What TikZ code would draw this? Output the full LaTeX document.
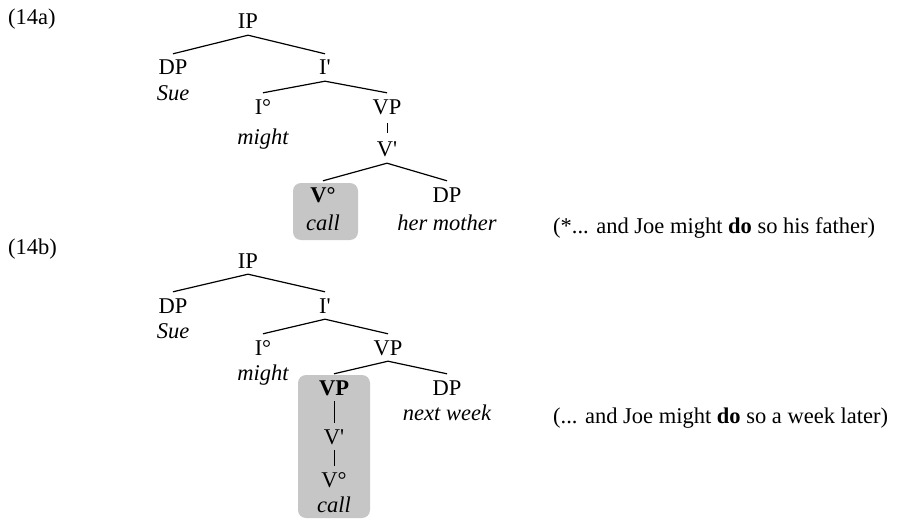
\documentclass[tikz,border=0pt]{standalone}
\usepackage{fontspec}
\setmainfont{Liberation Serif}

\begin{document}
\begin{tikzpicture}[x=1pt,y=-1pt,
    cat/.style={anchor=base, inner xsep=1pt, inner ysep=6pt, text height=15pt,
      text depth=0pt, font=\fontsize{22.5}{26}\selectfont},
    wd/.style={anchor=base, inner sep=1pt, font=\fontsize{22.5}{26}\selectfont\itshape},
    txt/.style={anchor=base west, inner sep=0pt, font=\fontsize{22.5}{26}\selectfont},
    lnk/.style={line width=1.2pt},
    vlnk/.style={line width=1pt, shorten <=3pt, shorten >=3pt},
    hl/.style={fill=gray!45, rounded corners=8pt}]
  \useasboundingbox (0,0) rectangle (898,519);
  % (14a)
  \node[txt] (ex14a) at (8,25) {(14a)};
  \fill[hl] (293,183) rectangle (358,240);
  \node[cat] (IPa) at (248,29) {IP};
  \node[cat] (DPa) at (173,75) {DP};
  \node[wd] (Suea) at (173,100) {Sue};
  \node[cat] (Ibara) at (325,75) {I\textquotesingle};
  \node[cat] (Ia) at (263,114) {I°};
  \node[wd] (mighta) at (263,145) {might};
  \node[cat] (VPa) at (387,114) {VP};
  \node[cat] (Vbara) at (387,157) {V\textquotesingle};
  \node[cat] (Va) at (323,202) {\bfseries V°};
  \node[wd] (calla) at (323,230) {call};
  \node[cat] (DPa2) at (447,202) {DP};
  \node[wd] (mothera) at (447,230) {her mother};
  \node[txt] (glossa) at (553,233) {(*... and Joe might \textbf{do} so his father)};
  \draw[lnk] (IPa.south) -- (DPa.north);
  \draw[lnk] (IPa.south) -- (Ibara.north);
  \draw[lnk] (Ibara.south) -- (Ia.north);
  \draw[lnk] (Ibara.south) -- (VPa.north);
  \draw[vlnk] (VPa.south) -- (Vbara.north);
  \draw[lnk] (Vbara.south) -- (Va.north);
  \draw[lnk] (Vbara.south) -- (DPa2.north);
  % (14b)
  \node[txt] (ex14b) at (8,254) {(14b)};
  \fill[hl] (298,375) rectangle (370,518);
  \node[cat] (IPb) at (248,268) {IP};
  \node[cat] (DPb) at (173,313) {DP};
  \node[wd] (Sueb) at (173,338) {Sue};
  \node[cat] (Ibarb) at (325,313) {I\textquotesingle};
  \node[cat] (Ib) at (263,355) {I°};
  \node[wd] (mightb) at (263,380) {might};
  \node[cat] (VPb) at (388,355) {VP};
  \node[cat] (VPc) at (334,395) {\bfseries VP};
  \node[cat] (Vbarb) at (334,444) {V\textquotesingle};
  \node[cat] (Vb) at (334,487) {V°};
  \node[wd] (callb) at (334,512) {call};
  \node[cat] (DPb2) at (447,395) {DP};
  \node[wd] (weekb) at (447,420) {next week};
  \node[txt] (glossb) at (553,423) {(... and Joe might \textbf{do} so a week later)};
  \draw[lnk] (IPb.south) -- (DPb.north);
  \draw[lnk] (IPb.south) -- (Ibarb.north);
  \draw[lnk] (Ibarb.south) -- (Ib.north);
  \draw[lnk] (Ibarb.south) -- (VPb.north);
  \draw[lnk] (VPb.south) -- (VPc.north);
  \draw[lnk] (VPb.south) -- (DPb2.north);
  \draw[line width=1pt] (VPc.south) -- (Vbarb.north);
  \draw[line width=1pt] (Vbarb.south) -- (Vb.north);
\end{tikzpicture}
\end{document}
